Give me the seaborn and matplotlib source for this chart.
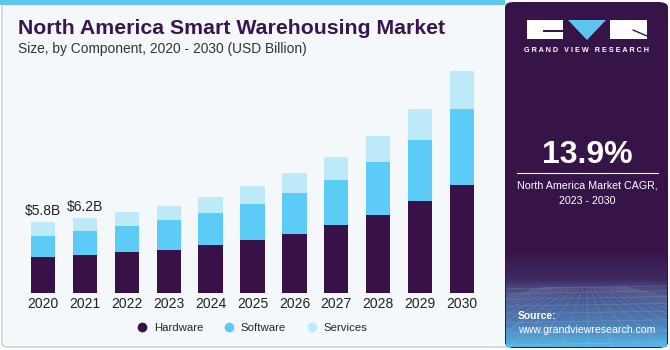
import matplotlib
matplotlib.use("Agg")
import matplotlib.pyplot as plt
import seaborn as sns
import numpy as np
import pandas as pd
from matplotlib.patches import FancyBboxPatch, Rectangle, Polygon
from matplotlib.lines import Line2D

# data (USD billion)
years = ["2020", "2021", "2022", "2023", "2024", "2025", "2026", "2027", "2028", "2029", "2030"]
hardware = [2.94, 3.10, 3.35, 3.54, 3.93, 4.36, 4.88, 5.60, 6.39, 7.57, 8.91]
software = [1.78, 2.02, 2.16, 2.47, 2.68, 2.99, 3.35, 3.75, 4.44, 5.05, 6.23]
services = [1.10, 1.02, 1.18, 1.15, 1.32, 1.48, 1.65, 1.84, 2.12, 2.53, 3.15]
total_labels = {"2020": "$5.8B", "2021": "$6.2B"}

C_HW = "#371147"
C_SW = "#5CCBF6"
C_SV = "#BEE9F9"
C_PANEL = "#371447"
C_BG = "#F4F8FB"

W, H = 670, 350


def fx(px):
    return px / W


def fy(py):
    return 1 - py / H


sns.set_style("white")
plt.rcParams["font.family"] = ["Liberation Sans", "DejaVu Sans"]

fig = plt.figure(figsize=(6.7, 3.5), dpi=100)
fig.patch.set_facecolor("white")

# chart card background + top strip
fig.patches.append(FancyBboxPatch((fx(2), fy(347)), fx(520), fy(3) - fy(347),
                                  boxstyle="round,pad=0,rounding_size=0.01",
                                  transform=fig.transFigure, facecolor=C_BG,
                                  edgecolor="#C9CDD2", linewidth=1, zorder=0))
fig.patches.append(Rectangle((fx(0), fy(5)), fx(505), fy(0) - fy(5),
                             transform=fig.transFigure, facecolor="#5CC6EE",
                             edgecolor="none", zorder=1))

# right panel
fig.patches.append(FancyBboxPatch((fx(505), fy(348)), fx(163), fy(2) - fy(348),
                                  boxstyle="round,pad=0,rounding_size=0.015",
                                  transform=fig.transFigure, facecolor=C_PANEL,
                                  edgecolor="none", zorder=2))
gax = fig.add_axes([fx(506), fy(347), fx(161), fy(250) - fy(347)], zorder=3)
gcmap = matplotlib.colors.LinearSegmentedColormap.from_list(
    "g", [(0, C_PANEL), (0.3, "#3E2A62"), (0.4, "#4A4C84"), (0.75, "#4F7DB5"), (1, "#55B6E6")])
grad = np.linspace(0, 1, 200).reshape(-1, 1)
gax.imshow(grad, aspect="auto", cmap=gcmap, extent=[0, 1, 0, 1], origin="upper")
# faint perspective mesh
for k in range(-12, 13):
    gax.plot([0.5 + k * 0.02, 0.5 + k * 0.16], [0.62, 0.0], color="white", lw=0.4, alpha=0.18)
for v in [0.6, 0.55, 0.49, 0.42, 0.34, 0.25, 0.14, 0.02]:
    gax.plot([0, 1], [v, v + 0.03], color="white", lw=0.4, alpha=0.18)
gax.set_xlim(0, 1)
gax.set_ylim(0, 1)
gax.axis("off")

# logo and panel text
lax = fig.add_axes([0, 0, 1, 1], zorder=4)
lax.set_xlim(0, W)
lax.set_ylim(H, 0)
lax.axis("off")
lax.add_patch(Rectangle((527, 20), 36, 19, facecolor="white", edgecolor="none"))
lax.add_patch(Rectangle((543, 30), 20, 1.5, facecolor=C_PANEL, edgecolor="none"))
lax.add_patch(Polygon([(568, 20), (606, 20), (587, 40)], closed=True, facecolor="#5CC6EE", edgecolor="none"))
lax.add_patch(Rectangle((610, 20), 37, 19, facecolor="white", edgecolor="none"))
lax.plot([633, 647], [30, 36], color=C_PANEL, lw=1)
lax.text(587, 51, "G R A N D   V I E W   R E S E A R C H", color="white", fontsize=5.2,
         fontweight="bold", ha="center", va="center")
lax.text(587, 155, "13.9%", color="white", fontsize=23, fontweight="bold", ha="center", va="center")
lax.plot([517, 658], [173, 173], color="white", lw=0.8)
lax.text(587, 185, "North America Market CAGR,", color="white", fontsize=7.7, ha="center", va="center")
lax.text(587, 201, "2023 - 2030", color="white", fontsize=7.7, ha="center", va="center")
lax.text(518, 316, "Source:", color="white", fontsize=7.5, fontweight="bold", ha="left", va="center")
lax.text(518, 330, "www.grandviewresearch.com", color="white", fontsize=7.6,
         ha="left", va="center")

# titles
lax.text(18, 28, "North America Smart Warehousing Market", color="#3A1550", fontsize=15.3,
         fontweight="bold", ha="left", va="center")
lax.text(18, 49, "Size, by Component, 2020 - 2030 (USD Billion)", color="#333333", fontsize=9.9,
         ha="left", va="center")

# bar chart
ax = fig.add_axes([fx(22), fy(293), fx(461), fy(60) - fy(293)], zorder=5)
ax.patch.set_alpha(0)
df = pd.DataFrame({"year": years, "Hardware": hardware, "Software": software, "Services": services})
df["hw_sw"] = df["Hardware"] + df["Software"]
df["total"] = df["hw_sw"] + df["Services"]

sns.barplot(data=df, x="year", y="total", color=C_SV, width=0.58, saturation=1, ax=ax, edgecolor="none")
sns.barplot(data=df, x="year", y="hw_sw", color=C_SW, width=0.58, saturation=1, ax=ax, edgecolor="none")
sns.barplot(data=df, x="year", y="Hardware", color=C_HW, width=0.58, saturation=1, ax=ax, edgecolor="none")

for i, y in enumerate(years):
    if y in total_labels:
        ax.text(i, df["total"][i] + 0.35, total_labels[y], ha="center", va="bottom",
                fontsize=10, color="#222222")

ax.set_xlim(-0.5, 10.5)
ax.set_ylim(0, 19.2)
ax.set_xlabel("")
ax.set_ylabel("")
ax.set_yticks([])
ax.tick_params(axis="x", length=0, labelsize=10, colors="#222222", pad=3)
sns.despine(ax=ax, left=True, bottom=True)

handles = [Line2D([], [], marker="o", linestyle="none", markersize=7, markerfacecolor=c,
                  markeredgecolor="none") for c in (C_HW, C_SW, C_SV)]
fig.legend(handles, ["Hardware", "Software", "Services"], loc="center",
           bbox_to_anchor=(fx(252), fy(328)), ncol=3, frameon=False, fontsize=8.2,
           handlelength=1.0, handletextpad=0.5, columnspacing=1.8)

fig.savefig("out.png", dpi=100)
